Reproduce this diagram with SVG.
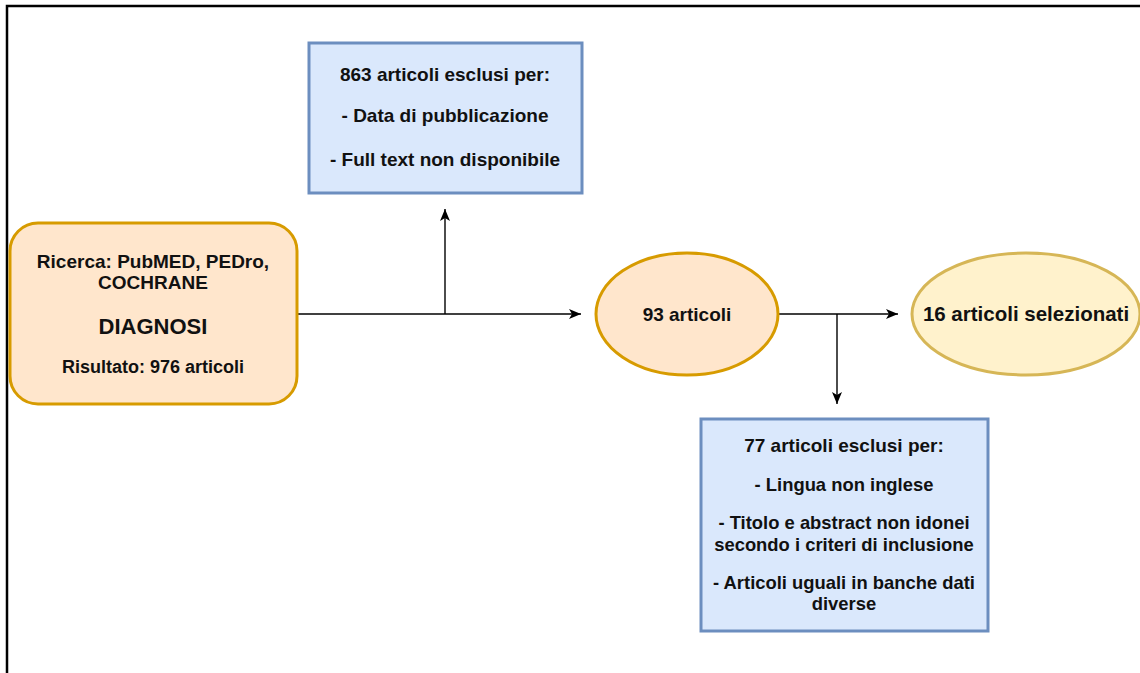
<svg xmlns="http://www.w3.org/2000/svg" width="1140" height="673" viewBox="0 0 1140 673">
  <defs>
    <style>
      text { font-family: "Liberation Sans", Arial, Helvetica, sans-serif; font-weight: bold; fill: #111; text-anchor: middle; }
      .t { font-size: 19px; }
      .s { font-size: 18.4px; }
      .orange { fill: #ffe6cc; stroke: #d79b00; stroke-width: 3; }
      .yellow { fill: #fff2cc; stroke: #d6b656; stroke-width: 3; }
      .blue { fill: #dae8fc; stroke: #6c8ebf; stroke-width: 3; }
      .conn { fill: none; stroke: #000; stroke-width: 1.4; marker-end: url(#arrow); }
    </style>
    <marker id="arrow" markerUnits="userSpaceOnUse" markerWidth="14" markerHeight="12" refX="12" refY="6" orient="auto">
      <path d="M0,1 L12,6 L0,11 L3,6 Z" fill="#000"/>
    </marker>
  </defs>
  <rect x="0" y="0" width="1140" height="673" fill="#fff"/>
  <path d="M7,673 V6 H1140" fill="none" stroke="#000" stroke-width="2.5"/>

  <g id="connectors">
    <path class="conn" d="M297,314 H581"/>
    <path class="conn" d="M445,314 V209"/>
    <path class="conn" d="M779,314 H898"/>
    <path class="conn" d="M837,314 V404"/>
  </g>

  <g id="search">
    <rect class="orange" x="10" y="223" width="287" height="181" rx="28" ry="28"/>
    <text class="t" x="153" y="268">Ricerca: PubMED, PEDro,</text>
    <text class="t" x="153" y="289">COCHRANE</text>
    <text x="153" y="334" style="font-size:22px">DIAGNOSI</text>
    <text x="153" y="373" style="font-size:18px">Risultato: 976 articoli</text>
  </g>

  <g id="excluded863">
    <rect class="blue" x="309" y="43" width="273" height="150"/>
    <text class="t" x="445" y="81">863 articoli esclusi per:</text>
    <text class="t" x="445" y="122">- Data di pubblicazione</text>
    <text class="t" x="445" y="166">- Full text non disponibile</text>
  </g>

  <g id="articoli93">
    <ellipse class="orange" cx="687" cy="314" rx="91" ry="61"/>
    <text class="t" x="687" y="321">93 articoli</text>
  </g>

  <g id="selezionati16">
    <ellipse class="yellow" cx="1026" cy="314" rx="114" ry="61"/>
    <text x="1026" y="321" style="font-size:20.5px">16 articoli selezionati</text>
  </g>

  <g id="excluded77">
    <rect class="blue" x="701" y="419" width="287" height="212"/>
    <text class="t" x="844" y="452">77 articoli esclusi per:</text>
    <text class="s" x="844" y="491">- Lingua non inglese</text>
    <text class="s" x="844" y="529">- Titolo e abstract non idonei</text>
    <text class="s" x="844" y="551">secondo i criteri di inclusione</text>
    <text class="s" x="844" y="589">- Articoli uguali in banche dati</text>
    <text class="s" x="844" y="610">diverse</text>
  </g>
</svg>
